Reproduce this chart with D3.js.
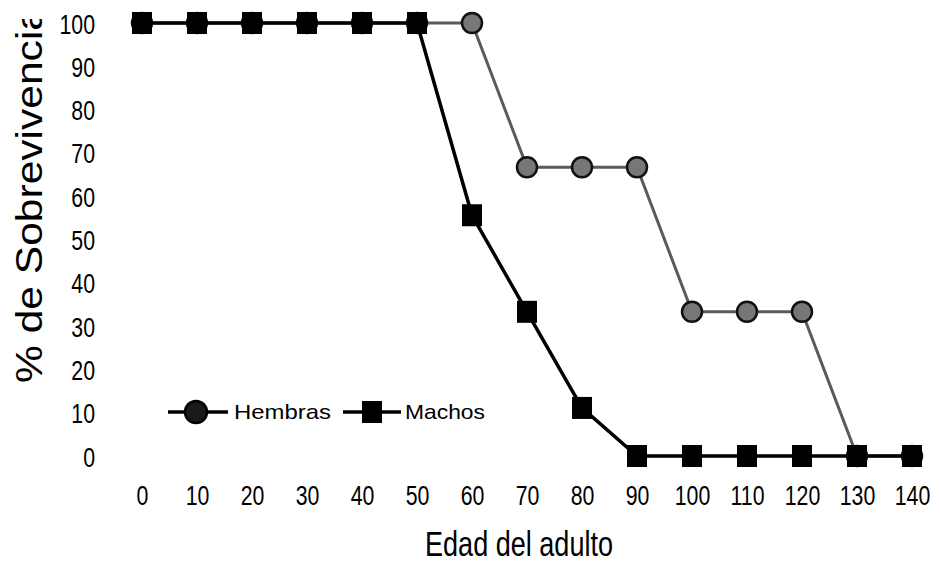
<!DOCTYPE html>
<html>
<head>
<meta charset="utf-8">
<script src="https://cdn.jsdelivr.net/npm/d3@7"></script>
<style>
  html, body { margin: 0; padding: 0; background: #fff; }
  svg { display: block; }
  text { font-family: "Liberation Sans", Arial, Helvetica, sans-serif; fill: #000; }
</style>
</head>
<body>
<svg id="chart" width="940" height="563"></svg>
<script>
// Edad del adulto (días) y porcentaje de sobrevivencia por sexo
const edades = [0, 10, 20, 30, 40, 50, 60, 70, 80, 90, 100, 110, 120, 130, 140];
const hembras = [100, 100, 100, 100, 100, 100, 100, 66.7, 66.7, 66.7, 33.3, 33.3, 33.3, 0, 0];
const machos  = [100, 100, 100, 100, 100, 100, 55.6, 33.3, 11.1, 0, 0, 0, 0, 0, 0];
const yTicks = [0, 10, 20, 30, 40, 50, 60, 70, 80, 90, 100];
const xTicks = edades;

const svg = d3.select("#chart");

const x = d3.scaleLinear().domain([0, 140]).range([142, 912]);
const y = d3.scaleLinear().domain([0, 100]).range([456, 23]);

// Narrow the tick labels horizontally, keeping them as text
function condense(sel, factor) {
  sel.each(function () {
    const w = this.getComputedTextLength();
    d3.select(this).attr("textLength", w * factor).attr("lengthAdjust", "spacingAndGlyphs");
  });
}

// Y axis labels (no axis line, no ticks)
const yAxis = svg.append("g")
  .attr("transform", "translate(95,0)")
  .call(d3.axisLeft(y).tickValues(yTicks).tickSize(0).tickPadding(0).tickFormat(d3.format("d")));
yAxis.select(".domain").remove();
yAxis.selectAll("text")
  .attr("font-size", 28).attr("dy", "0.36em")
  .style("font-family", "'Liberation Sans', Arial, sans-serif")
  .call(condense, 0.76);

// X axis labels
const xAxis = svg.append("g")
  .attr("transform", "translate(0,456)")
  .call(d3.axisBottom(x).tickValues(xTicks).tickSize(0).tickPadding(0).tickFormat(d3.format("d")));
xAxis.select(".domain").remove();
xAxis.selectAll("text")
  .attr("font-size", 28).attr("y", 49).attr("dy", 0)
  .style("font-family", "'Liberation Sans', Arial, sans-serif")
  .call(condense, 0.76);

// Axis titles
svg.append("text")
  .attr("x", 425).attr("y", 556)
  .attr("font-size", 35)
  .attr("textLength", 188).attr("lengthAdjust", "spacingAndGlyphs")
  .text("Edad del adulto");

svg.append("clipPath").attr("id", "ytitle-clip")
  .append("rect").attr("x", 0).attr("y", 19).attr("width", 70).attr("height", 420);

svg.append("g").attr("clip-path", "url(#ytitle-clip)")
  .append("text")
  .attr("transform", "translate(42,383) rotate(-90)")
  .attr("font-size", 37)
  .attr("textLength", 376).attr("lengthAdjust", "spacingAndGlyphs")
  .text("% de Sobrevivencia");

const line = d3.line().x(d => x(d[0])).y(d => y(d[1]));
const hData = edades.map((e, i) => [e, hembras[i]]);
const mData = edades.map((e, i) => [e, machos[i]]);

const colH = "#5a5a5a", fillH = "#777", colM = "#000";
const sqW = 20, sqH = 22, rad = 10;

// Hembras
svg.append("path").datum(hData)
  .attr("d", line).attr("fill", "none")
  .attr("stroke", colH).attr("stroke-width", 3);
svg.append("g").selectAll("circle").data(hData).join("circle")
  .attr("cx", d => x(d[0])).attr("cy", d => y(d[1])).attr("r", rad)
  .attr("fill", fillH).attr("stroke", "#111").attr("stroke-width", 2.5);

// Machos
svg.append("path").datum(mData)
  .attr("d", line).attr("fill", "none")
  .attr("stroke", colM).attr("stroke-width", 3.5);
svg.append("g").selectAll("rect").data(mData).join("rect")
  .attr("x", d => x(d[0]) - sqW / 2).attr("y", d => y(d[1]) - sqH / 2)
  .attr("width", sqW).attr("height", sqH).attr("fill", "#000");

// Legend
const leg = svg.append("g");
leg.append("line").attr("x1", 168).attr("x2", 228).attr("y1", 412).attr("y2", 412)
  .attr("stroke", "#000").attr("stroke-width", 3.5);
leg.append("circle").attr("cx", 196).attr("cy", 412).attr("r", 11)
  .attr("fill", "#1a1a1a").attr("stroke", "#000").attr("stroke-width", 2.5);
leg.append("text").attr("x", 234).attr("y", 419).attr("font-size", 21)
  .attr("textLength", 97).attr("lengthAdjust", "spacingAndGlyphs").text("Hembras");

leg.append("line").attr("x1", 343).attr("x2", 401).attr("y1", 412).attr("y2", 412)
  .attr("stroke", colM).attr("stroke-width", 3.5);
leg.append("rect").attr("x", 362).attr("y", 401).attr("width", sqW).attr("height", sqH).attr("fill", "#000");
leg.append("text").attr("x", 405).attr("y", 419).attr("font-size", 21)
  .attr("textLength", 80).attr("lengthAdjust", "spacingAndGlyphs").text("Machos");
</script>
</body>
</html>
